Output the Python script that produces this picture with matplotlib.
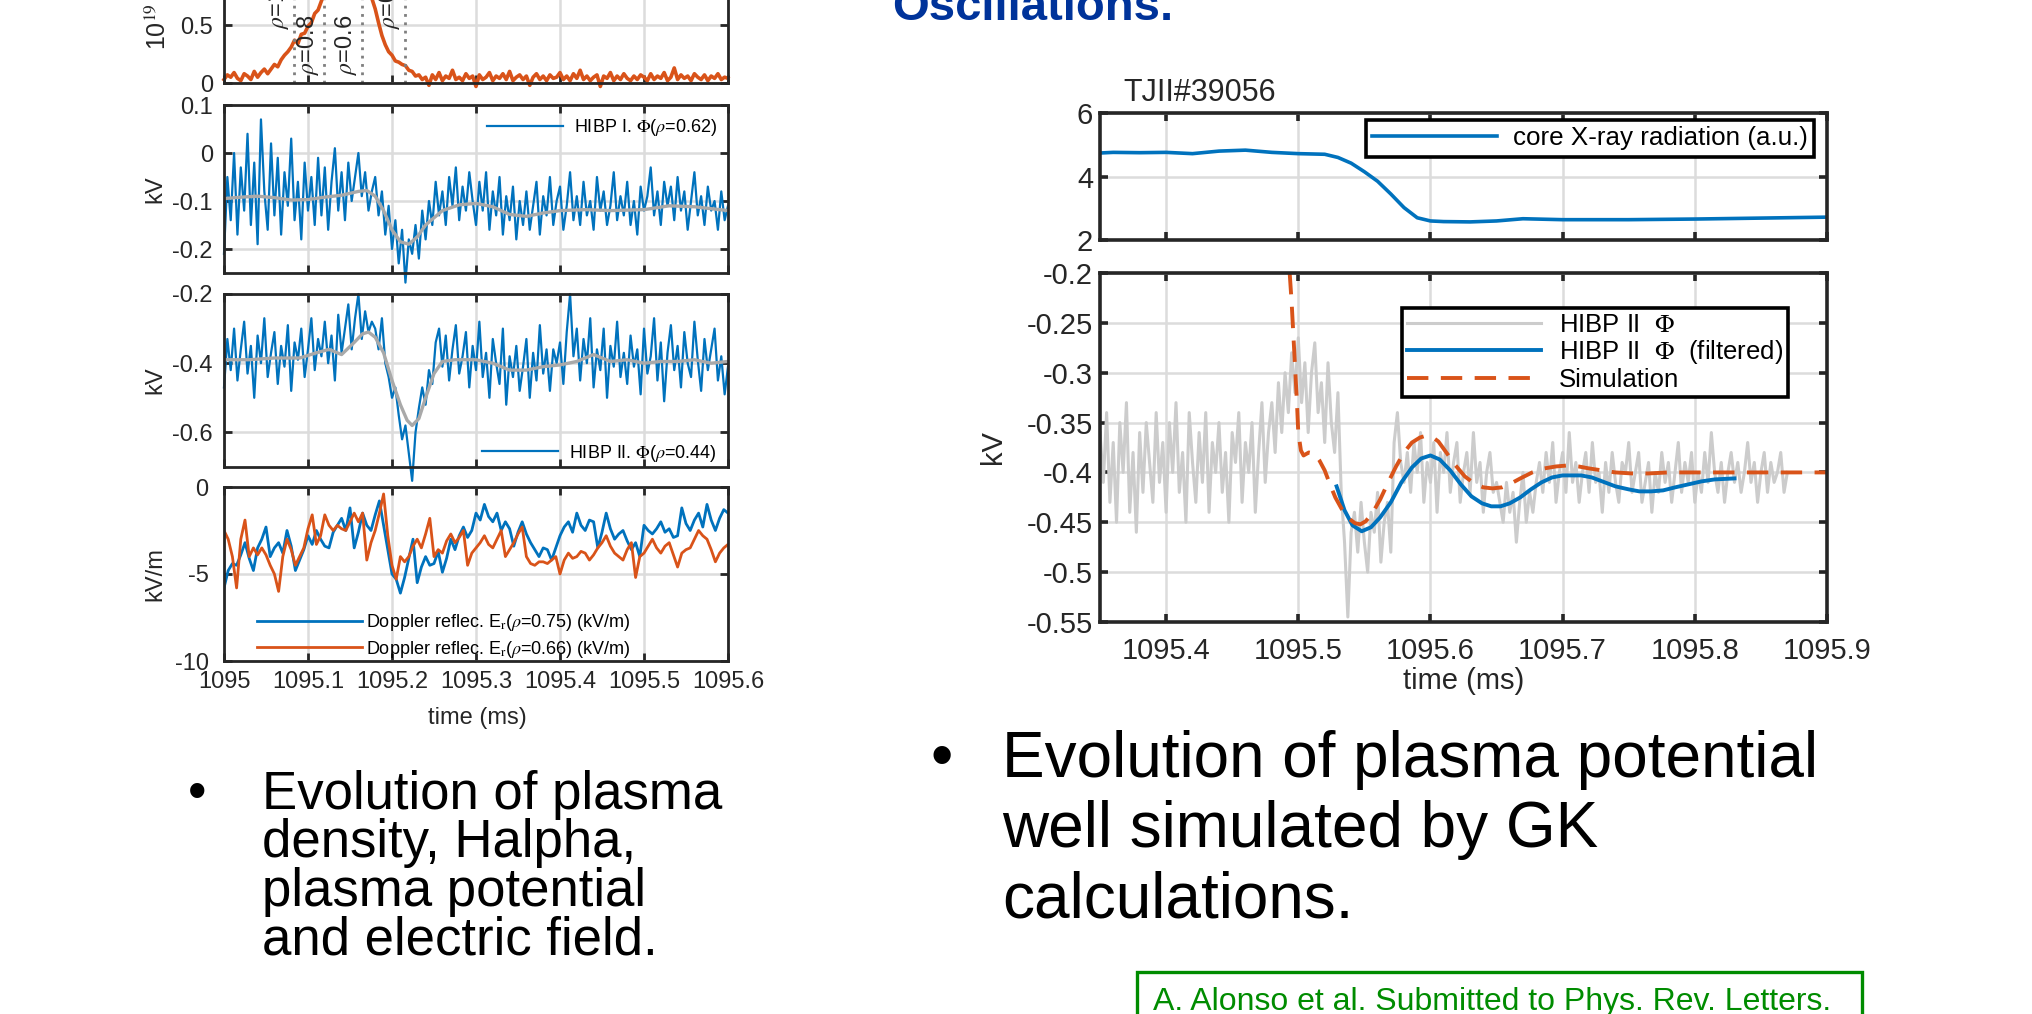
import matplotlib.pyplot as plt
from matplotlib.patches import Rectangle
import numpy as np

plt.rcParams['font.family'] = ['Liberation Sans', 'DejaVu Sans']
plt.rcParams['mathtext.fontset'] = 'stix'

W, H = 2032, 1014
BLUE = '#0072BD'
ORANGE = '#D95319'
DARK = '#262626'

# ---- left column: TJ-II shot, 1095.0 - 1095.6 ms ----
left_xticks = [1095.0, 1095.1, 1095.2, 1095.3, 1095.4, 1095.5, 1095.6]
left_xticklabels = ['1095', '1095.1', '1095.2', '1095.3', '1095.4', '1095.5', '1095.6']

# H-alpha (orange), sampled every 4 us from 1095.0
halpha_t0, halpha_dt = 1095.0, 0.004
halpha = [0.03, 0.07, 0.05, 0.09, 0.04, 0.02, 0.08, 0.06, 0.03, 0.10,
          0.05, 0.09, 0.12, 0.08, 0.12, 0.16, 0.14, 0.20, 0.24, 0.27,
          0.31, 0.37, 0.34, 0.42, 0.43, 0.49, 0.52, 0.60, 0.63, 0.71,
          0.78, 0.90, 1.05, 1.20, 1.32, 1.40, 1.42, 1.38, 1.30, 1.18,
          1.05, 0.95, 0.86, 0.79, 0.73, 0.64, 0.52, 0.41, 0.33, 0.27,
          0.24, 0.19, 0.18, 0.16, 0.15, 0.11, 0.10, 0.06, 0.07, 0.03,
          0.05, -0.02, 0.07, 0.03, 0.09, 0.02, 0.06, 0.04, 0.11, 0.03,
          0.05, 0.02, 0.08, 0.04, 0.06, -0.03, 0.07, 0.03, 0.05, 0.09,
          0.02, 0.06, 0.04, 0.08, 0.03, 0.10, 0.02, 0.05, 0.07, 0.03,
          0.06, -0.02, 0.05, 0.08, 0.03, 0.06, 0.02, 0.07, 0.04, 0.05,
          0.09, 0.03, 0.06, 0.02, 0.08, 0.04, 0.11, 0.03, 0.06, 0.02,
          0.05, 0.07, -0.03, 0.06, 0.04, 0.09, 0.02, 0.06, 0.03, 0.08,
          0.04, 0.02, 0.06, 0.03, 0.07, 0.05, 0.02, 0.08, 0.03, 0.06,
          0.04, 0.09, 0.02, 0.05, 0.13, 0.03, 0.07, 0.04, 0.06, 0.02,
          0.08, 0.05, 0.03, 0.07, 0.02, 0.06, 0.04, 0.08, 0.03, 0.05,
          0.04]
rho_times = [1095.083, 1095.119, 1095.164, 1095.215]
rho_labels = [r'$\rho$=1', r'$\rho$=0.8', r'$\rho$=0.6', r'$\rho$=0.8']
rho_label_y = [0.47, 0.07, 0.07, 0.47]

# HIBP I potential (rho = 0.62)
hibp1_t0, hibp1_dt = 1095.0, 0.004
hibp1_raw = [-0.21, -0.05, -0.14, 0.0, -0.17, -0.03, -0.12, 0.04, -0.15, -0.02, -0.19, 0.07, -0.08, -0.16, 0.02,
             -0.13, -0.01, -0.17, -0.04, -0.11, 0.03, -0.14, -0.06, -0.18, -0.02, -0.12, -0.05, -0.15, -0.01, -0.13,
             -0.03, -0.16, -0.06, 0.01, -0.12, -0.04, -0.14, -0.02, -0.10, -0.05, 0.0, -0.09, -0.04, -0.12, -0.08,
             -0.05, -0.13, -0.08, -0.17, -0.11, -0.20, -0.14, -0.23, -0.16, -0.27, -0.18, -0.21, -0.15, -0.22, -0.12,
             -0.18, -0.10, -0.15, -0.06, -0.13, -0.08, -0.15, -0.05, -0.11, -0.03, -0.14, -0.07, -0.12, -0.04, -0.10,
             -0.15, -0.06, -0.12, -0.04, -0.16, -0.08, -0.13, -0.05, -0.17, -0.09, -0.14, -0.07, -0.18, -0.10, -0.15,
             -0.08, -0.16, -0.11, -0.06, -0.17, -0.09, -0.13, -0.05, -0.15, -0.10, -0.07, -0.16, -0.11, -0.04, -0.14,
             -0.09, -0.15, -0.06, -0.13, -0.10, -0.16, -0.05, -0.12, -0.08, -0.15, -0.11, -0.04, -0.14, -0.09, -0.13,
             -0.06, -0.15, -0.10, -0.17, -0.07, -0.12, -0.09, -0.03, -0.13, -0.08, -0.15, -0.06, -0.11, -0.07, -0.14,
             -0.05, -0.12, -0.08, -0.16, -0.10, -0.04, -0.13, -0.09, -0.15, -0.07, -0.12, -0.10, -0.16, -0.08, -0.14, -0.11]
hibp1_filt_t = [1095.0, 1095.02, 1095.04, 1095.06, 1095.08, 1095.1, 1095.12, 1095.14, 1095.16, 1095.17,
                1095.18, 1095.19, 1095.2, 1095.21, 1095.22, 1095.23, 1095.24, 1095.26, 1095.28, 1095.3,
                1095.32, 1095.34, 1095.36, 1095.38, 1095.4, 1095.43, 1095.46, 1095.5, 1095.53, 1095.56, 1095.6]
hibp1_filt = [-0.095, -0.092, -0.09, -0.093, -0.098, -0.097, -0.092, -0.088, -0.08, -0.078,
              -0.09, -0.12, -0.16, -0.185, -0.19, -0.175, -0.15, -0.12, -0.108, -0.105,
              -0.112, -0.128, -0.132, -0.125, -0.12, -0.118, -0.12, -0.118, -0.11, -0.112, -0.12]

# HIBP II potential (rho = 0.44)
hibp2_t0, hibp2_dt = 1095.0, 0.004
hibp2_raw = [-0.47, -0.33, -0.42, -0.30, -0.45, -0.36, -0.28, -0.43, -0.35, -0.50, -0.32, -0.40, -0.27, -0.44, -0.37,
             -0.31, -0.46, -0.35, -0.41, -0.29, -0.48, -0.34, -0.39, -0.30, -0.44, -0.36, -0.27, -0.42, -0.33, -0.38,
             -0.28, -0.40, -0.32, -0.45, -0.26, -0.37, -0.30, -0.23, -0.36, -0.27, -0.20, -0.33, -0.25, -0.31, -0.28,
             -0.30, -0.36, -0.27, -0.40, -0.44, -0.50, -0.47, -0.55, -0.62, -0.58, -0.66, -0.74, -0.60, -0.53, -0.47,
             -0.52, -0.42, -0.46, -0.34, -0.30, -0.41, -0.32, -0.45, -0.36, -0.29, -0.43, -0.38, -0.31, -0.47, -0.35,
             -0.42, -0.28, -0.44, -0.37, -0.50, -0.33, -0.40, -0.46, -0.30, -0.52, -0.38, -0.44, -0.35, -0.48, -0.41,
             -0.33, -0.50, -0.37, -0.45, -0.29, -0.43, -0.36, -0.48, -0.36, -0.40, -0.34, -0.46, -0.31, -0.20, -0.38,
             -0.30, -0.45, -0.33, -0.40, -0.27, -0.47, -0.36, -0.42, -0.30, -0.50, -0.35, -0.41, -0.28, -0.44, -0.37,
             -0.46, -0.32, -0.41, -0.36, -0.49, -0.30, -0.43, -0.38, -0.27, -0.45, -0.34, -0.51, -0.37, -0.29, -0.42,
             -0.35, -0.47, -0.31, -0.40, -0.44, -0.28, -0.39, -0.48, -0.33, -0.42, -0.36, -0.30, -0.45, -0.38, -0.49, -0.41]
hibp2_filt_t = [1095.0, 1095.03, 1095.06, 1095.09, 1095.11, 1095.125, 1095.14, 1095.155, 1095.165, 1095.172,
                1095.18, 1095.19, 1095.2, 1095.21, 1095.218, 1095.224, 1095.232, 1095.24, 1095.25, 1095.26,
                1095.275, 1095.3, 1095.32, 1095.34, 1095.36, 1095.38, 1095.4, 1095.42, 1095.44, 1095.46,
                1095.48, 1095.5, 1095.52, 1095.54, 1095.56, 1095.58, 1095.6]
hibp2_filt = [-0.39, -0.39, -0.385, -0.385, -0.37, -0.36, -0.375, -0.34, -0.315, -0.31,
              -0.325, -0.37, -0.45, -0.52, -0.565, -0.58, -0.56, -0.5, -0.43, -0.395,
              -0.39, -0.39, -0.4, -0.42, -0.42, -0.41, -0.405, -0.395, -0.375, -0.395,
              -0.39, -0.4, -0.395, -0.395, -0.39, -0.4, -0.395]

# Doppler reflectometry Er, every 5 us
dop_t0, dop_dt = 1095.0, 0.005
er_075 = [-5.8, -4.8, -4.4, -4.5, -3.9, -3.2, -4.1, -4.8, -3.5, -3.0,
          -2.3, -4.0, -3.5, -3.2, -3.8, -2.5, -3.4, -4.8, -4.2, -3.6,
          -2.8, -3.3, -2.5, -3.0, -3.4, -3.5, -2.6, -2.2, -1.8, -2.5,
          -1.2, -3.5, -2.6, -1.5, -2.2, -2.5, -1.6, -0.8, -2.2, -3.6,
          -5.0, -5.3, -6.1, -5.2, -4.1, -3.0, -5.5, -4.6, -4.0, -4.5,
          -4.4, -3.7, -4.9, -4.1, -3.0, -3.6, -2.8, -2.3, -2.9, -2.5,
          -1.5, -1.9, -1.0, -1.7, -2.0, -1.5, -2.5, -2.0, -2.4, -3.4,
          -2.6, -2.0, -2.7, -3.2, -3.6, -4.0, -3.5, -3.6, -4.2, -3.5,
          -2.8, -2.3, -2.0, -2.6, -1.5, -2.2, -2.5, -1.9, -2.0, -3.5,
          -2.6, -1.5, -2.4, -3.0, -2.7, -2.5, -3.1, -3.6, -3.2, -4.0,
          -2.2, -2.5, -2.7, -2.4, -2.0, -2.6, -2.4, -2.9, -2.8, -1.2,
          -2.1, -2.5, -1.9, -1.5, -2.3, -1.0, -1.9, -2.5, -1.8, -1.3,
          -1.5]
er_066 = [-2.5, -3.0, -4.0, -5.8, -3.0, -1.9, -4.0, -3.5, -3.9, -3.5,
          -3.9, -4.5, -5.0, -6.0, -4.0, -3.0, -3.6, -4.5, -4.0, -3.5,
          -2.4, -1.6, -3.3, -2.8, -1.6, -2.2, -2.5, -2.2, -2.4, -2.5,
          -2.0, -1.5, -2.0, -1.5, -4.2, -3.2, -2.5, -1.5, -0.4, -2.8,
          -4.5, -5.3, -4.0, -4.3, -4.0, -3.4, -3.0, -3.5, -2.7, -1.8,
          -4.0, -3.6, -3.8, -3.1, -2.7, -3.2, -2.9, -2.5, -4.5, -3.8,
          -3.5, -3.2, -2.8, -3.3, -3.5, -3.0, -2.5, -4.0, -3.6, -3.2,
          -2.7, -2.3, -4.0, -4.4, -4.5, -4.3, -4.3, -4.4, -4.2, -4.0,
          -5.0, -4.2, -3.8, -4.1, -4.0, -3.7, -3.8, -4.2, -3.9, -3.5,
          -3.2, -2.8, -3.4, -3.8, -4.0, -4.2, -3.6, -3.2, -5.2, -4.0,
          -3.8, -3.4, -3.0, -3.5, -3.8, -3.4, -3.2, -3.9, -4.6, -3.8,
          -3.6, -3.5, -3.0, -2.5, -2.8, -3.0, -3.6, -4.3, -3.8, -3.5,
          -3.3]

# ---- right column: TJII#39056 zoom, 1095.35 - 1095.9 ms ----
right_xticks = [1095.4, 1095.5, 1095.6, 1095.7, 1095.8, 1095.9]
right_xticklabels = ['1095.4', '1095.5', '1095.6', '1095.7', '1095.8', '1095.9']
right_yticks = [-0.2, -0.25, -0.3, -0.35, -0.4, -0.45, -0.5, -0.55]
right_yticklabels = ['-0.2', '-0.25', '-0.3', '-0.35', '-0.4', '-0.45', '-0.5', '-0.55']

xray_t = [1095.35, 1095.36, 1095.38, 1095.40, 1095.42, 1095.44, 1095.46, 1095.48, 1095.50, 1095.52,
          1095.53, 1095.54, 1095.55, 1095.56, 1095.57, 1095.58, 1095.59, 1095.60, 1095.61, 1095.63,
          1095.65, 1095.67, 1095.70, 1095.75, 1095.80, 1095.85, 1095.90]
xray = [4.74, 4.76, 4.75, 4.76, 4.72, 4.80, 4.83, 4.76, 4.72, 4.70,
        4.60, 4.42, 4.15, 3.85, 3.45, 3.02, 2.70, 2.60, 2.58, 2.57,
        2.60, 2.67, 2.64, 2.64, 2.66, 2.69, 2.72]

phi_t0, phi_dt = 1095.35, 0.0025
phi_raw = [-0.36, -0.41, -0.34, -0.43, -0.37, -0.45, -0.35, -0.40, -0.33, -0.44, -0.38, -0.46, -0.36, -0.42, -0.35, -0.39, -0.43, -0.34, -0.41, -0.37,
           -0.44, -0.35, -0.40, -0.33, -0.42, -0.38, -0.45, -0.34, -0.39, -0.43, -0.36, -0.41, -0.34, -0.44, -0.37, -0.40, -0.35, -0.42, -0.38, -0.45,
           -0.36, -0.39, -0.34, -0.43, -0.37, -0.40, -0.35, -0.44, -0.38, -0.33, -0.41, -0.36,
           -0.33, -0.38, -0.31, -0.36, -0.30, -0.34, -0.28, -0.32, -0.265,
           -0.33, -0.29, -0.36, -0.30, -0.27, -0.34, -0.31, -0.37, -0.29, -0.35, -0.38, -0.32,
           -0.42, -0.47, -0.545, -0.46,
           -0.44, -0.48, -0.43, -0.47, -0.50, -0.44, -0.46, -0.42, -0.49, -0.45, -0.43, -0.48,
           -0.37, -0.34, -0.39,
           -0.41, -0.38, -0.42, -0.37, -0.40, -0.36, -0.43, -0.39, -0.41, -0.37, -0.44, -0.38, -0.40, -0.36, -0.42,
           -0.39, -0.37, -0.43, -0.40, -0.38, -0.42, -0.36, -0.41, -0.39, -0.44, -0.40, -0.38, -0.42, -0.41,
           -0.43, -0.45, -0.41, -0.44, -0.42, -0.47, -0.43, -0.40, -0.45, -0.42, -0.44, -0.41,
           -0.39, -0.42, -0.38, -0.41, -0.37, -0.43, -0.40, -0.38, -0.42, -0.36, -0.41, -0.39, -0.43, -0.40, -0.38, -0.42, -0.37, -0.41, -0.40, -0.44,
           -0.39, -0.42, -0.38, -0.41, -0.43, -0.39, -0.40, -0.37, -0.42, -0.40, -0.38, -0.43, -0.41, -0.39, -0.44, -0.40, -0.42, -0.38, -0.41, -0.39,
           -0.43, -0.40, -0.37, -0.42, -0.39, -0.41, -0.38, -0.43, -0.40, -0.42, -0.38, -0.41, -0.36, -0.40, -0.42, -0.39, -0.43, -0.40, -0.38, -0.41,
           -0.39, -0.42, -0.40, -0.37, -0.41, -0.39, -0.43, -0.40, -0.38, -0.42, -0.39, -0.41, -0.40, -0.38, -0.42, -0.40]
phi_filt_t = [1095.529, 1095.535, 1095.541, 1095.548, 1095.555, 1095.562, 1095.57, 1095.578, 1095.586, 1095.593,
              1095.6, 1095.607, 1095.615, 1095.623, 1095.631, 1095.639, 1095.646, 1095.653, 1095.66, 1095.668,
              1095.676, 1095.684, 1095.692, 1095.7, 1095.707, 1095.714, 1095.722, 1095.73, 1095.74, 1095.75,
              1095.758, 1095.767, 1095.776, 1095.785, 1095.795, 1095.805, 1095.815, 1095.83]
phi_filt = [-0.414, -0.438, -0.453, -0.459, -0.455, -0.445, -0.43, -0.41, -0.395, -0.386,
            -0.383, -0.387, -0.398, -0.412, -0.424, -0.431, -0.434, -0.434, -0.431, -0.425,
            -0.417, -0.41, -0.405, -0.403, -0.403, -0.403, -0.405, -0.409, -0.414, -0.417,
            -0.419, -0.419, -0.418, -0.415, -0.412, -0.409, -0.407, -0.406]
sim_t = [1095.4935, 1095.495, 1095.497, 1095.499, 1095.5, 1095.502, 1095.504, 1095.508, 1095.512, 1095.516,
         1095.52, 1095.524, 1095.528, 1095.533, 1095.538, 1095.543, 1095.547, 1095.551, 1095.556, 1095.562,
         1095.568, 1095.574, 1095.58, 1095.586, 1095.592, 1095.597, 1095.601, 1095.606, 1095.612, 1095.619,
         1095.626, 1095.633, 1095.64, 1095.647, 1095.654, 1095.661, 1095.668, 1095.677, 1095.686, 1095.695,
         1095.704, 1095.712, 1095.72, 1095.73, 1095.74, 1095.752, 1095.765, 1095.78, 1095.8, 1095.83,
         1095.86, 1095.9]
sim = [-0.2, -0.23, -0.28, -0.33, -0.36, -0.378, -0.383, -0.38, -0.381, -0.388,
       -0.398, -0.412, -0.425, -0.437, -0.446, -0.451, -0.452, -0.449, -0.441, -0.427,
       -0.41, -0.394, -0.38, -0.37, -0.365, -0.363, -0.364, -0.369, -0.38, -0.393,
       -0.404, -0.411, -0.415, -0.416, -0.415, -0.411, -0.406, -0.4, -0.396, -0.394,
       -0.393, -0.394, -0.396, -0.398, -0.4, -0.401, -0.401, -0.4, -0.4, -0.4,
       -0.4, -0.4]


def sample_times(t0, dt, values):
    return t0 + dt * np.arange(len(values))


def px_box(left, top, right, bottom):
    # axes rectangle given in pixel edges measured from the top-left corner
    return [left / W, 1 - bottom / H, (right - left) / W, (bottom - top) / H]


def fx(x):
    return x / W


def fy(y):
    return 1 - y / H


def matlab_style(ax, fs, lw, ypad=5, xpad=5):
    for s in ax.spines.values():
        s.set_linewidth(lw)
        s.set_color(DARK)
    ax.tick_params(direction='in', top=True, right=True, length=6, width=lw,
                   color=DARK, labelcolor=DARK, labelsize=fs)
    ax.tick_params(axis='y', pad=ypad)
    ax.tick_params(axis='x', pad=xpad)
    ax.grid(True, color='#dcdcdc', linewidth=1.8)
    ax.set_axisbelow(True)


fig = plt.figure(figsize=(W / 100, H / 100), dpi=100)
LFS = 17

# panel: H-alpha (top cut by the page edge)
ax0 = fig.add_axes(px_box(224, -56, 728, 83))
ax0.plot(sample_times(halpha_t0, halpha_dt, halpha), halpha, color=ORANGE, lw=2.6, clip_on=False)
for t, lab, yl in zip(rho_times, rho_labels, rho_label_y):
    ax0.axvline(t, color='#7f7f7f', lw=2, ls=(0, (1, 2)))
    ax0.text(t - 0.003, yl, lab, rotation=90, ha='right', va='bottom', fontsize=LFS, color=DARK)
ax0.set_xlim(1095.0, 1095.6)
ax0.set_ylim(0, 1.2)
ax0.set_xticks(left_xticks)
ax0.set_yticks([0, 0.5, 1.0])
ax0.set_yticklabels(['0', '0.5', '1'])
matlab_style(ax0, LFS, 2, ypad=8)
ax0.tick_params(labelbottom=False)
fig.text(fx(158), fy(50), r'10$^{19}$ m$^{-3}$', rotation=90, ha='center', va='bottom',
         fontsize=LFS + 1, color=DARK)

# panel: HIBP I
ax1 = fig.add_axes(px_box(224, 105, 728, 273))
ax1.plot(sample_times(hibp1_t0, hibp1_dt, hibp1_raw), hibp1_raw, color=BLUE, lw=1.6,
         clip_on=False, label=r'HIBP I. $\Phi$($\rho$=0.62)')
ax1.plot(hibp1_filt_t, hibp1_filt, color='#a9a9a9', lw=2.4)
ax1.set_xlim(1095.0, 1095.6)
ax1.set_ylim(-0.25, 0.1)
ax1.set_xticks(left_xticks)
ax1.set_yticks([0.1, 0, -0.1, -0.2])
ax1.set_yticklabels(['0.1', '0', '-0.1', '-0.2'])
matlab_style(ax1, LFS, 2, ypad=8)
ax1.tick_params(labelbottom=False)
ax1.set_ylabel('kV', fontsize=LFS, color=DARK)
ax1.yaxis.set_label_coords(-0.115, 0.5)
ax1.legend(loc='upper right', bbox_to_anchor=(fx(724), fy(110)), bbox_transform=fig.transFigure,
           frameon=False, fontsize=13, handlelength=4.2, handletextpad=0.6, borderaxespad=0)

# panel: HIBP II
ax2 = fig.add_axes(px_box(224, 294, 728, 467))
ax2.plot(sample_times(hibp2_t0, hibp2_dt, hibp2_raw), hibp2_raw, color=BLUE, lw=1.6,
         clip_on=False, label=r'HIBP II. $\Phi$($\rho$=0.44)')
ax2.plot(hibp2_filt_t, hibp2_filt, color='#a9a9a9', lw=2.4)
ax2.set_xlim(1095.0, 1095.6)
ax2.set_ylim(-0.7, -0.2)
ax2.set_xticks(left_xticks)
ax2.set_yticks([-0.2, -0.4, -0.6])
ax2.set_yticklabels(['-0.2', '-0.4', '-0.6'])
matlab_style(ax2, LFS, 2, ypad=8)
ax2.tick_params(labelbottom=False)
ax2.set_ylabel('kV', fontsize=LFS, color=DARK)
ax2.yaxis.set_label_coords(-0.115, 0.5)
ax2.legend(loc='lower right', bbox_to_anchor=(fx(724), fy(471)), bbox_transform=fig.transFigure,
           frameon=False, fontsize=13, handlelength=4.2, handletextpad=0.6, borderaxespad=0)

# panel: Doppler reflectometry Er
ax3 = fig.add_axes(px_box(224, 487, 728, 661))
ax3.plot(sample_times(dop_t0, dop_dt, er_075), er_075, color=BLUE, lw=2,
         label=r'Doppler reflec. E$_{\rm r}$($\rho$=0.75) (kV/m)')
ax3.plot(sample_times(dop_t0, dop_dt, er_066), er_066, color=ORANGE, lw=2,
         label=r'Doppler reflec. E$_{\rm r}$($\rho$=0.66) (kV/m)')
ax3.set_xlim(1095.0, 1095.6)
ax3.set_ylim(-10, 0)
ax3.set_xticks(left_xticks)
ax3.set_xticklabels(left_xticklabels)
ax3.set_yticks([0, -5, -10])
ax3.set_yticklabels(['0', '-5', '-10'])
matlab_style(ax3, LFS, 2, ypad=11, xpad=7)
ax3.set_ylabel('kV/m', fontsize=LFS, color=DARK)
ax3.yaxis.set_label_coords(-0.115, 0.5)
ax3.legend(loc='lower left', bbox_to_anchor=(fx(250), fy(667)), bbox_transform=fig.transFigure,
           frameon=False, fontsize=13, handlelength=5.8, handletextpad=0.2, labelspacing=0.3,
           borderaxespad=0)
fig.text(fx(477), fy(718), 'time (ms)', ha='center', va='center', fontsize=LFS, color=DARK)

# right: core X-ray
RFS = 21
axr0 = fig.add_axes(px_box(1100, 113, 1827, 240))
axr0.plot(xray_t, xray, color=BLUE, lw=2.6, label='core X-ray radiation (a.u.)')
axr0.set_xlim(1095.35, 1095.9)
axr0.set_ylim(2, 6)
axr0.set_xticks(right_xticks)
axr0.set_yticks([2, 4, 6])
axr0.set_yticklabels(['2', '4', '6'])
matlab_style(axr0, RFS, 2.6)
axr0.tick_params(labelbottom=False)
leg = axr0.legend(loc='upper right', bbox_to_anchor=(fx(1814), fy(120)), bbox_transform=fig.transFigure,
                  fontsize=18.7, handlelength=4.8, handletextpad=0.6, borderpad=0.25, borderaxespad=0,
                  fancybox=False, framealpha=1, edgecolor='black')
leg.get_frame().set_linewidth(2.6)
fig.text(fx(1123), fy(93), 'TJII#39056', ha='left', va='center', fontsize=22, color=DARK)

# right: HIBP II vs simulation
axr1 = fig.add_axes(px_box(1100, 273, 1827, 622))
axr1.plot(sample_times(phi_t0, phi_dt, phi_raw), phi_raw, color='#cccccc', lw=2.2,
          label=r'HIBP II  $\Phi$')
axr1.plot(phi_filt_t, phi_filt, color=BLUE, lw=2.8, label=r'HIBP II  $\Phi$  (filtered)')
axr1.plot(sim_t, sim, color=ORANGE, lw=2.8, dashes=(5.5, 3.2), label='Simulation')
axr1.set_xlim(1095.35, 1095.9)
axr1.set_ylim(-0.55, -0.2)
axr1.set_xticks(right_xticks)
axr1.set_xticklabels(right_xticklabels)
axr1.set_yticks(right_yticks)
axr1.set_yticklabels(right_yticklabels)
matlab_style(axr1, RFS, 2.6, xpad=10.5)
axr1.set_ylabel('kV', fontsize=RFS, color=DARK)
axr1.yaxis.set_label_coords(-0.128, 0.5)
axr1.set_xlabel('time (ms)', fontsize=RFS, color=DARK, labelpad=2)
leg = axr1.legend(loc='upper right', bbox_to_anchor=(fx(1788), fy(308)), bbox_transform=fig.transFigure,
                  fontsize=18.5, handlelength=5.2, handletextpad=0.7, borderpad=0.2, labelspacing=0.05,
                  borderaxespad=0, fancybox=False, framealpha=1, edgecolor='black')
leg.get_frame().set_linewidth(2.6)

# slide text
fig.text(fx(892), fy(20), 'Oscillations.', ha='left', va='baseline', fontsize=34,
         fontweight='bold', color='#00339a')

left_lines = ['Evolution of plasma', 'density, Halpha,', 'plasma potential', 'and electric field.']
for i, line in enumerate(left_lines):
    fig.text(fx(262), fy(809 + 48.5 * i), line, ha='left', va='baseline', fontsize=38, color='black')
fig.text(fx(197), fy(809), '\u2022', ha='center', va='baseline', fontsize=38, color='black')

right_lines = ['Evolution of plasma potential', 'well simulated by GK', 'calculations.']
for i, line in enumerate(right_lines):
    fig.text(fx(1002), fy(777 + 70 * i), line, ha='left', va='baseline', fontsize=46, color='black')
fig.text(fx(942), fy(777), '\u2022', ha='center', va='baseline', fontsize=46, color='black')

# reference box
fig.patches.append(Rectangle((fx(1137), fy(1040)), (1862 - 1137) / W, (1040 - 972) / H,
                             transform=fig.transFigure, fill=False, edgecolor='#008c00', linewidth=2.4))
fig.text(fx(1153), fy(1010), 'A. Alonso et al. Submitted to Phys. Rev. Letters.', ha='left',
         va='baseline', fontsize=23, color='#008c00')

fig.savefig('out.png', dpi=100)
